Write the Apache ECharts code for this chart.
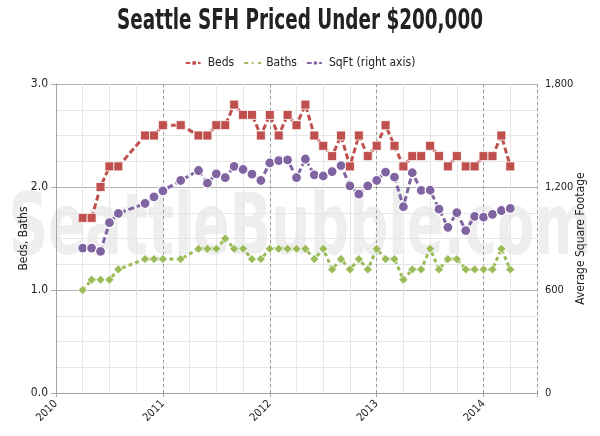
<!DOCTYPE html>
<html>
<head>
<meta charset="utf-8">
<script src="https://cdn.jsdelivr.net/npm/echarts@6/dist/echarts.min.js"></script>
<style>html,body{margin:0;padding:0;background:#fff;}#c{width:600px;height:436px;}</style>
</head>
<body>
<div id="c"></div>
<script>
// Month (end of month) of each observation
const months = ['2010-03','2010-04','2010-05','2010-06','2010-07','2010-10','2010-11','2010-12',
  '2011-02','2011-04','2011-05','2011-06','2011-07','2011-08','2011-09','2011-10','2011-11','2011-12',
  '2012-01','2012-02','2012-03','2012-04','2012-05','2012-06','2012-07','2012-08','2012-09','2012-10','2012-11','2012-12',
  '2013-01','2013-02','2013-03','2013-04','2013-05','2013-06','2013-07','2013-08','2013-09','2013-10','2013-11','2013-12',
  '2014-01','2014-02','2014-03'];
const beds = [1.7,1.7,2.0,2.2,2.2,2.5,2.5,2.6,
  2.6,2.5,2.5,2.6,2.6,2.8,2.7,2.7,2.5,2.7,
  2.5,2.7,2.6,2.8,2.5,2.4,2.3,2.5,2.2,2.5,2.3,2.4,
  2.6,2.4,2.2,2.3,2.3,2.4,2.3,2.2,2.3,2.2,2.2,2.3,
  2.3,2.5,2.2];
const baths = [1.0,1.1,1.1,1.1,1.2,1.3,1.3,1.3,
  1.3,1.4,1.4,1.4,1.5,1.4,1.4,1.3,1.3,1.4,
  1.4,1.4,1.4,1.4,1.3,1.4,1.2,1.3,1.2,1.3,1.2,1.4,
  1.3,1.3,1.1,1.2,1.2,1.4,1.2,1.3,1.3,1.2,1.2,1.2,
  1.2,1.4,1.2];
const sqft = [844,844,825,992,1046,1104,1142,1178,
  1238,1296,1222,1277,1255,1320,1302,1275,1238,1340,
  1354,1358,1255,1363,1271,1264,1290,1325,1206,1158,1206,1238,
  1287,1258,1085,1283,1180,1181,1071,965,1051,946,1029,1025,
  1040,1063,1075];
const yearTicks = ['2010','2011','2012','2013','2014'];
const leftTicks = ['0.0','1.0','2.0','3.0'];
const rightTicks = ['0','600','1,200','1,800'];
const titleText = 'Seattle SFH Priced Under $200,000';
const watermarkText = 'SeattleBubble.com';

const baseYear = 2010;
function mIndex(s){ const p = s.split('-'); return (Number(p[0]) - baseYear) * 12 + Number(p[1]); }
const FONT = '"DejaVu Sans Condensed","DejaVu Sans",sans-serif';

const chart = echarts.init(document.getElementById('c'), null, {renderer:'canvas'});
const xMax = 54;
chart.setOption({
  animation: false,
  backgroundColor: '#fff',
  textStyle: {fontFamily: FONT, color: '#222'},
  legend: {
    top: 52, left: 'center',
    itemWidth: 17, itemHeight: 7, itemGap: 9,
    textStyle: {fontFamily: FONT, fontSize: 12, fontWeight: 'condensed', color: '#222'},
    data: ['Beds','Baths','SqFt (right axis)']
  },
  graphic: [{
    type: 'text', x: 300, y: 232, z: -10, silent: true, scaleX: 0.705,
    style: {text: watermarkText, font: 'bold 86px "DejaVu Sans Condensed","DejaVu Sans",sans-serif',
      fill: '#eeeeee', textAlign: 'center', textVerticalAlign: 'middle'}
  },{
    type: 'text', x: 300, y: 22, z: 10, silent: true, scaleX: 0.73,
    style: {text: titleText, font: 'bold 28px "DejaVu Sans Condensed","DejaVu Sans",sans-serif',
      fill: '#222', textAlign: 'center', textVerticalAlign: 'middle'}
  }],
  grid: {left: 56, right: 63, top: 84, bottom: 43, containLabel: false},
  xAxis: [{
    type: 'value', min: 0, max: xMax, interval: 3,
    axisLine: {lineStyle: {color: '#a6a6a6', width: 1}},
    axisTick: {show: false},
    axisLabel: {
      rotate: 45, fontSize: 11, fontWeight: 'condensed', color: '#222', fontFamily: FONT, margin: 9,
      formatter: function(v){ return (v % 12 === 0) ? yearTicks[v/12] || '' : ''; }
    },
    splitLine: {show: true, lineStyle: {color: '#e6e6e6', width: 1}}
  },{
    type: 'value', min: 0, max: xMax, interval: 12, position: 'bottom',
    axisLine: {show: false},
    axisTick: {show: true, length: 4, lineStyle: {color: '#a6a6a6'}},
    axisLabel: {show: false},
    splitLine: {show: true, lineStyle: {color: '#9a9a9a', type: [3,3], width: 1}}
  }],
  yAxis: [{
    type: 'value', min: 0, max: 3, interval: 1,
    name: 'Beds, Baths', nameLocation: 'middle', nameGap: 26, nameRotate: 90, nameMoveOverlap: false,
    nameTextStyle: {fontFamily: FONT, fontSize: 12, fontWeight: 'condensed', color: '#222'},
    axisLine: {show: true, lineStyle: {color: '#a6a6a6'}},
    axisTick: {show: true, length: 5, lineStyle: {color: '#a6a6a6'}},
    axisLabel: {fontSize: 12, fontWeight: 'condensed', color: '#222', fontFamily: FONT, margin: 8,
      formatter: function(v){ return leftTicks[Math.round(v)]; }},
    splitLine: {show: true, lineStyle: {color: '#b3b3b3', width: 1}},
    minorTick: {show: false, splitNumber: 4},
    minorSplitLine: {show: true, lineStyle: {color: '#e6e6e6', width: 1}}
  },{
    type: 'value', min: 0, max: 1800, interval: 600, position: 'right',
    name: 'Average Square Footage', nameLocation: 'middle', nameGap: 38, nameRotate: 90, nameMoveOverlap: false,
    nameTextStyle: {fontFamily: FONT, fontSize: 12, fontWeight: 'condensed', color: '#222'},
    axisLine: {show: true, lineStyle: {color: '#a6a6a6'}},
    axisTick: {show: true, length: 5, lineStyle: {color: '#a6a6a6'}},
    axisLabel: {fontSize: 11, fontWeight: 'condensed', color: '#222', fontFamily: FONT, margin: 8,
      formatter: function(v){ return rightTicks[Math.round(v/600)]; }},
    splitLine: {show: false}
  }],
  series: [{
    name: 'Beds', type: 'line', xAxisIndex: 0, yAxisIndex: 0, z: 4,
    data: months.map((m,i) => [mIndex(m), beds[i]]),
    symbol: 'rect', symbolSize: 9,
    itemStyle: {color: '#c0504d', borderColor: '#fff', borderWidth: 0.8},
    lineStyle: {color: '#c0504d', width: 3, type: [6,3]}
  },{
    name: 'Baths', type: 'line', xAxisIndex: 0, yAxisIndex: 0, z: 3,
    data: months.map((m,i) => [mIndex(m), baths[i]]),
    symbol: 'diamond', symbolSize: 9,
    itemStyle: {color: '#9bbb59', borderColor: '#fff', borderWidth: 0.8},
    lineStyle: {color: '#9bbb59', width: 3, type: [4,3]}
  },{
    name: 'SqFt (right axis)', type: 'line', xAxisIndex: 0, yAxisIndex: 1, z: 3,
    data: months.map((m,i) => [mIndex(m), sqft[i]]),
    symbol: 'circle', symbolSize: 10,
    itemStyle: {color: '#8064a2', borderColor: '#fff', borderWidth: 1.2},
    lineStyle: {color: '#8064a2', width: 3, type: [6,3]}
  }]
});
</script>
</body>
</html>
